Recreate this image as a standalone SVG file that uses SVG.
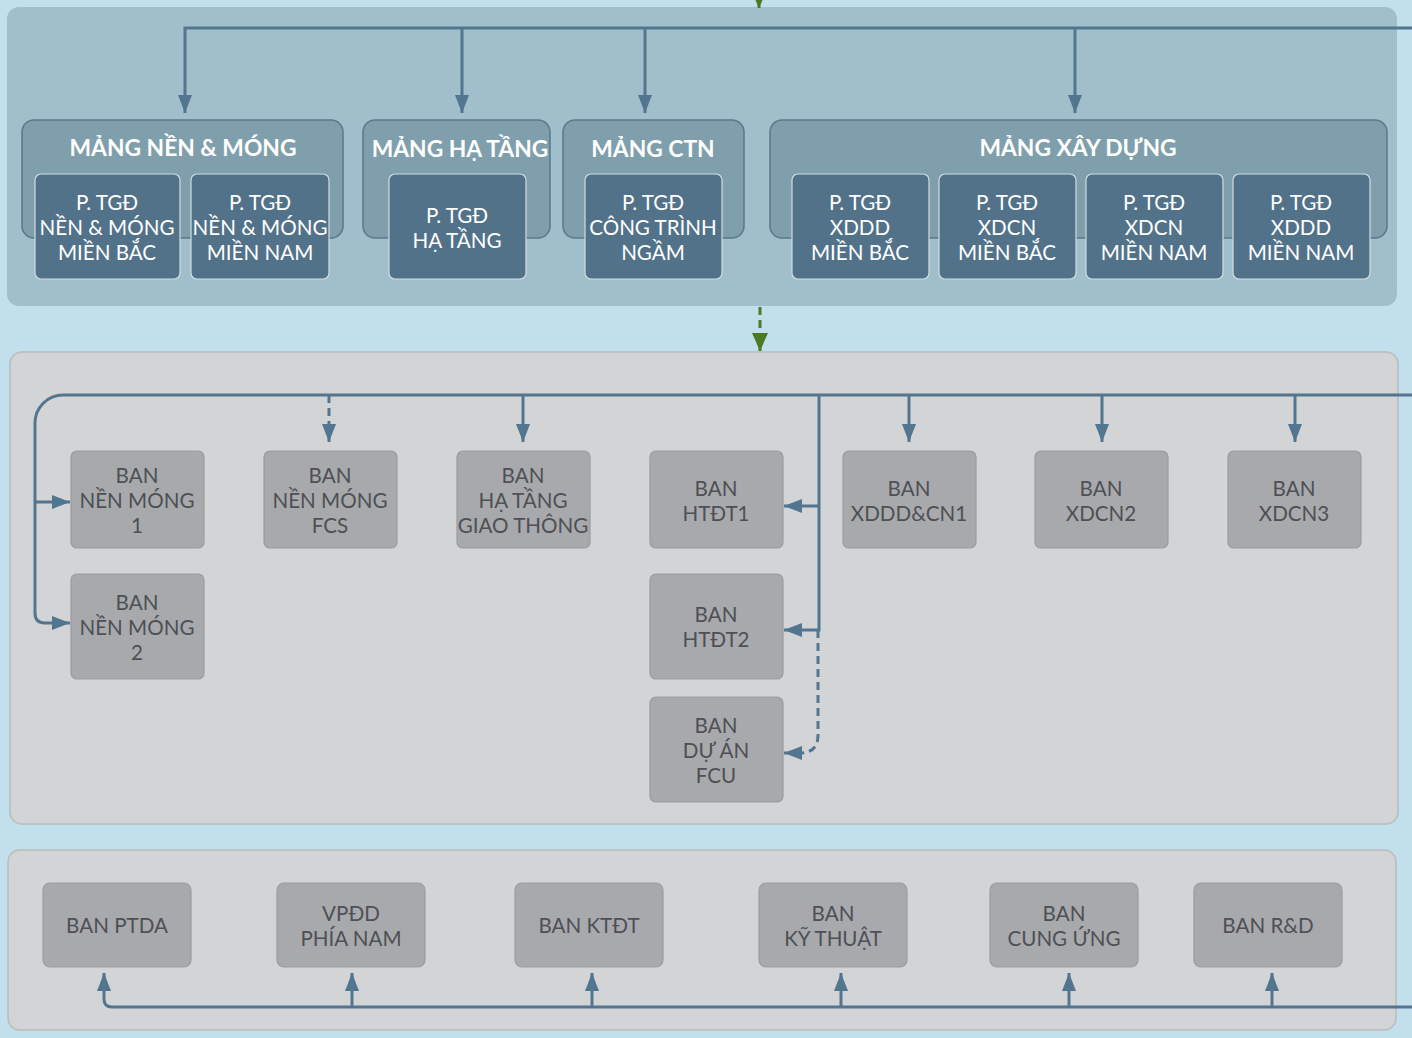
<svg xmlns="http://www.w3.org/2000/svg" width="1412" height="1038" viewBox="0 0 1412 1038">
<defs>
<style>
.panelTop{fill:#a0bfca;}
.panelGray{fill:#d3d4d6;stroke:#b9bbbd;stroke-width:1.5;}
.grp{fill:#7f9fac;stroke:#58788c;stroke-width:1.5;}
.dk{fill:#52728a;stroke:#d2dde2;stroke-width:1.2;}
.gb{fill:#a8a9ac;stroke:#9a9c9f;stroke-width:1.2;}
.ttl{font-family:Lato,"Liberation Sans",sans-serif;font-weight:bold;font-size:22.8px;fill:#ffffff;text-anchor:middle;dominant-baseline:central;}
.wt{font-family:Lato,"Liberation Sans",sans-serif;font-size:20.6px;fill:#ffffff;text-anchor:middle;dominant-baseline:central;}
.gt{font-family:Lato,"Liberation Sans",sans-serif;font-size:20.6px;fill:#4e5054;text-anchor:middle;dominant-baseline:central;}
.ln{fill:none;stroke:#527590;stroke-width:3;}
.dash{stroke-dasharray:8 5;}
.gr{fill:none;stroke:#4a7a25;stroke-width:3;}
</style>
<marker id="ah" viewBox="0 0 18 14" refX="18" refY="7" markerWidth="18" markerHeight="14" markerUnits="userSpaceOnUse" orient="auto">
<path d="M0,0 L18,7 L0,14 z" fill="#527590"/>
</marker>
<marker id="ahg" viewBox="0 0 18 16" refX="18" refY="8" markerWidth="18" markerHeight="16" markerUnits="userSpaceOnUse" orient="auto">
<path d="M0,0 L18,8 L0,16 z" fill="#4a7a25"/>
</marker>
</defs>
<rect x="0" y="0" width="1412" height="1038" fill="#c2dfec"/>
<rect class="panelTop" x="7" y="7" width="1390" height="299" rx="12"/>
<rect class="panelGray" x="10" y="352" width="1388" height="472" rx="12"/>
<rect class="panelGray" x="8" y="850" width="1388" height="180" rx="12"/>

<g id="connectors">
<path class="gr" d="M759,-20 V8" marker-end="url(#ahg)"/>
<path class="ln" d="M1412,28 H185 V113" marker-end="url(#ah)"/>
<path class="ln" d="M462,28 V113" marker-end="url(#ah)"/>
<path class="ln" d="M645,28 V113" marker-end="url(#ah)"/>
<path class="ln" d="M1075,28 V113" marker-end="url(#ah)"/>
<path class="gr dash" d="M760,307 V351" marker-end="url(#ahg)"/>
<path class="ln" d="M1412,395 H63 A28,28 0 0 0 35,423 V613 Q35,623 45,623 H70" marker-end="url(#ah)"/>
<path class="ln" d="M35,502 H70" marker-end="url(#ah)"/>
<path class="ln dash" d="M329,395 V442" marker-end="url(#ah)"/>
<path class="ln" d="M523,395 V442" marker-end="url(#ah)"/>
<path class="ln" d="M909,395 V442" marker-end="url(#ah)"/>
<path class="ln" d="M1102,395 V442" marker-end="url(#ah)"/>
<path class="ln" d="M1295,395 V442" marker-end="url(#ah)"/>
<path class="ln" d="M819,395 V630 H784" marker-end="url(#ah)"/>
<path class="ln" d="M819,506 H784" marker-end="url(#ah)"/>
<path class="ln dash" d="M818,630 V735 Q818,753 800,753 H784" marker-end="url(#ah)"/>
<path class="ln" d="M1412,1007 H112 Q104,1007 104,999 V973" marker-end="url(#ah)"/>
<path class="ln" d="M352,1007 V973" marker-end="url(#ah)"/>
<path class="ln" d="M592,1007 V973" marker-end="url(#ah)"/>
<path class="ln" d="M841,1007 V973" marker-end="url(#ah)"/>
<path class="ln" d="M1069,1007 V973" marker-end="url(#ah)"/>
<path class="ln" d="M1272,1007 V973" marker-end="url(#ah)"/>
</g>

<g id="mang-nen-mong">
<rect class="grp" x="22" y="120" width="321" height="118" rx="12"/>
<text class="ttl" x="183" y="147">MẢNG NỀN &amp; MÓNG</text>
</g>
<g id="mang-ha-tang">
<rect class="grp" x="363" y="120" width="187" height="118" rx="12"/>
<text class="ttl" x="460" y="148">MẢNG HẠ TẦNG</text>
</g>
<g id="mang-ctn">
<rect class="grp" x="563" y="120" width="181" height="118" rx="12"/>
<text class="ttl" x="653" y="148">MẢNG CTN</text>
</g>
<g id="mang-xay-dung">
<rect class="grp" x="770" y="120" width="617" height="118" rx="12"/>
<text class="ttl" x="1078" y="147">MẢNG XÂY DỰNG</text>
</g>

<g id="ptgd-nm-mb">
<rect class="dk" x="35" y="174" width="145" height="105" rx="6"/>
<text class="wt" x="107" y="202">P. TGĐ</text><text class="wt" x="107" y="227">NỀN &amp; MÓNG</text><text class="wt" x="107" y="252">MIỀN BẮC</text>
</g>
<g id="ptgd-nm-mn">
<rect class="dk" x="191" y="174" width="138" height="105" rx="6"/>
<text class="wt" x="260" y="202">P. TGĐ</text><text class="wt" x="260" y="227">NỀN &amp; MÓNG</text><text class="wt" x="260" y="252">MIỀN NAM</text>
</g>
<g id="ptgd-ht">
<rect class="dk" x="389" y="174" width="137" height="105" rx="6"/>
<text class="wt" x="457" y="215">P. TGĐ</text><text class="wt" x="457" y="240">HẠ TẦNG</text>
</g>
<g id="ptgd-ctn">
<rect class="dk" x="585" y="174" width="137" height="105" rx="6"/>
<text class="wt" x="653" y="202">P. TGĐ</text><text class="wt" x="653" y="227">CÔNG TRÌNH</text><text class="wt" x="653" y="252">NGẦM</text>
</g>
<g id="ptgd-xddd-mb">
<rect class="dk" x="792" y="174" width="137" height="105" rx="6"/>
<text class="wt" x="860" y="202">P. TGĐ</text><text class="wt" x="860" y="227">XDDD</text><text class="wt" x="860" y="252">MIỀN BẮC</text>
</g>
<g id="ptgd-xdcn-mb">
<rect class="dk" x="939" y="174" width="137" height="105" rx="6"/>
<text class="wt" x="1007" y="202">P. TGĐ</text><text class="wt" x="1007" y="227">XDCN</text><text class="wt" x="1007" y="252">MIỀN BẮC</text>
</g>
<g id="ptgd-xdcn-mn">
<rect class="dk" x="1086" y="174" width="137" height="105" rx="6"/>
<text class="wt" x="1154" y="202">P. TGĐ</text><text class="wt" x="1154" y="227">XDCN</text><text class="wt" x="1154" y="252">MIỀN NAM</text>
</g>
<g id="ptgd-xddd-mn">
<rect class="dk" x="1233" y="174" width="137" height="105" rx="6"/>
<text class="wt" x="1301" y="202">P. TGĐ</text><text class="wt" x="1301" y="227">XDDD</text><text class="wt" x="1301" y="252">MIỀN NAM</text>
</g>

<g id="ban-nm1">
<rect class="gb" x="71" y="451" width="133" height="97" rx="6"/>
<text class="gt" x="137" y="475">BAN</text><text class="gt" x="137" y="500">NỀN MÓNG</text><text class="gt" x="137" y="525">1</text>
</g>
<g id="ban-nm-fcs">
<rect class="gb" x="264" y="451" width="133" height="97" rx="6"/>
<text class="gt" x="330" y="475">BAN</text><text class="gt" x="330" y="500">NỀN MÓNG</text><text class="gt" x="330" y="525">FCS</text>
</g>
<g id="ban-htgt">
<rect class="gb" x="457" y="451" width="133" height="97" rx="6"/>
<text class="gt" x="523" y="475">BAN</text><text class="gt" x="523" y="500">HẠ TẦNG</text><text class="gt" x="523" y="525">GIAO THÔNG</text>
</g>
<g id="ban-htdt1">
<rect class="gb" x="650" y="451" width="133" height="97" rx="6"/>
<text class="gt" x="716" y="488">BAN</text><text class="gt" x="716" y="513">HTĐT1</text>
</g>
<g id="ban-xdddcn1">
<rect class="gb" x="843" y="451" width="133" height="97" rx="6"/>
<text class="gt" x="909" y="488">BAN</text><text class="gt" x="909" y="513">XDDD&amp;CN1</text>
</g>
<g id="ban-xdcn2">
<rect class="gb" x="1035" y="451" width="133" height="97" rx="6"/>
<text class="gt" x="1101" y="488">BAN</text><text class="gt" x="1101" y="513">XDCN2</text>
</g>
<g id="ban-xdcn3">
<rect class="gb" x="1228" y="451" width="133" height="97" rx="6"/>
<text class="gt" x="1294" y="488">BAN</text><text class="gt" x="1294" y="513">XDCN3</text>
</g>
<g id="ban-nm2">
<rect class="gb" x="71" y="574" width="133" height="105" rx="6"/>
<text class="gt" x="137" y="602">BAN</text><text class="gt" x="137" y="627">NỀN MÓNG</text><text class="gt" x="137" y="652">2</text>
</g>
<g id="ban-htdt2">
<rect class="gb" x="650" y="574" width="133" height="105" rx="6"/>
<text class="gt" x="716" y="614">BAN</text><text class="gt" x="716" y="639">HTĐT2</text>
</g>
<g id="ban-da-fcu">
<rect class="gb" x="650" y="697" width="133" height="105" rx="6"/>
<text class="gt" x="716" y="725">BAN</text><text class="gt" x="716" y="750">DỰ ÁN</text><text class="gt" x="716" y="775">FCU</text>
</g>

<g id="ban-ptda">
<rect class="gb" x="43" y="883" width="148" height="84" rx="7"/>
<text class="gt" x="117" y="925">BAN PTDA</text>
</g>
<g id="vpdd-phia-nam">
<rect class="gb" x="277" y="883" width="148" height="84" rx="7"/>
<text class="gt" x="351" y="913">VPĐD</text><text class="gt" x="351" y="938">PHÍA NAM</text>
</g>
<g id="ban-ktdt">
<rect class="gb" x="515" y="883" width="148" height="84" rx="7"/>
<text class="gt" x="589" y="925">BAN KTĐT</text>
</g>
<g id="ban-ky-thuat">
<rect class="gb" x="759" y="883" width="148" height="84" rx="7"/>
<text class="gt" x="833" y="913">BAN</text><text class="gt" x="833" y="938">KỸ THUẬT</text>
</g>
<g id="ban-cung-ung">
<rect class="gb" x="990" y="883" width="148" height="84" rx="7"/>
<text class="gt" x="1064" y="913">BAN</text><text class="gt" x="1064" y="938">CUNG ỨNG</text>
</g>
<g id="ban-rd">
<rect class="gb" x="1194" y="883" width="148" height="84" rx="7"/>
<text class="gt" x="1268" y="925">BAN R&amp;D</text>
</g>
</svg>
